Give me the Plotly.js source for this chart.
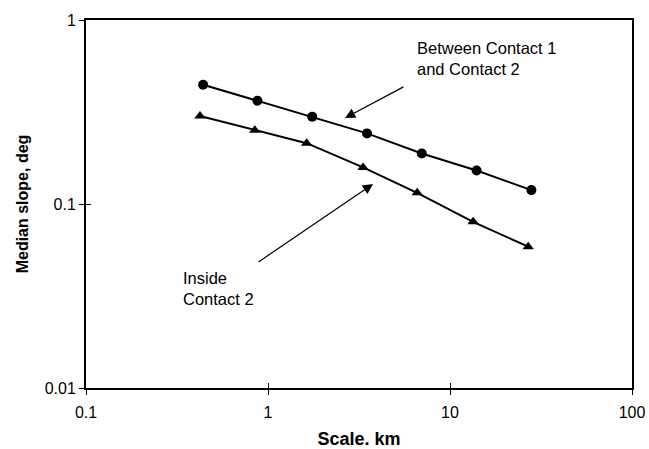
<!DOCTYPE html>
<html>
<head>
<meta charset="utf-8">
<script src="https://cdn.plot.ly/plotly-3.0.1.min.js"></script>
<style>html,body{margin:0;padding:0;background:#fff;}#chart{width:649px;height:449px;}</style>
</head>
<body>
<div id="chart"></div>
<script>
// Data
const scaleBetween = [0.44, 0.875, 1.75, 3.5, 7, 14, 28];
const slopeBetween = [0.445, 0.364, 0.298, 0.242, 0.188, 0.152, 0.119];
const scaleInside = [0.423, 0.846, 1.63, 3.33, 6.6, 13.4, 26.9];
const slopeInside = [0.301, 0.252, 0.214, 0.158, 0.115, 0.080, 0.0586];
const xTickVals = [0.1, 1, 10, 100];
const xTickText = ['0.1', '1', '10', '100'];
const yTickVals = [0.01, 0.1, 1];
const yTickText = ['0.01', '0.1', '1'];
const labelBetween = 'Between Contact 1<br>and Contact 2';
const labelInside = 'Inside<br>Contact 2';

const FONT = 'Liberation Sans, Arial, Helvetica, sans-serif';

const traces = [
  {x: scaleBetween, y: slopeBetween, type: 'scatter', mode: 'lines+markers',
   line: {color: '#000', width: 2}, marker: {symbol: 'circle', size: 10, color: '#000'},
   showlegend: false, hoverinfo: 'x+y'},
  {x: scaleInside, y: slopeInside, type: 'scatter', mode: 'lines+markers',
   line: {color: '#000', width: 2}, marker: {symbol: 'triangle-up', size: 10, color: '#000'},
   showlegend: false, hoverinfo: 'x+y'},
  // invisible trace so the overlay axes (inner half of the crossing ticks) are drawn
  {x: scaleBetween, y: slopeBetween, xaxis: 'x2', yaxis: 'y2', type: 'scatter', mode: 'markers',
   marker: {opacity: 0}, showlegend: false, hoverinfo: 'skip'}
];

const tickCommon = {ticklen: 5, tickwidth: 1, tickcolor: '#000', showgrid: false, zeroline: false};

const layout = {
  width: 649, height: 449,
  margin: {l: 86, r: 17, t: 20, b: 61},
  paper_bgcolor: '#fff', plot_bgcolor: '#fff',
  font: {family: FONT, color: '#000', size: 16},
  xaxis: Object.assign({
    type: 'log', range: [-1, 2],
    tickvals: xTickVals, ticktext: xTickText,
    ticks: 'outside', ticklabelstandoff: 4,
    showline: true, linecolor: '#000', linewidth: 2, mirror: true,
    tickfont: {size: 16},
    title: {text: '<b>Scale. km</b>', font: {size: 18}, standoff: 12}
  }, tickCommon),
  yaxis: Object.assign({
    type: 'log', range: [-2, 0],
    tickvals: yTickVals, ticktext: yTickText,
    ticks: 'outside',
    showline: true, linecolor: '#000', linewidth: 2, mirror: true,
    tickfont: {size: 16},
    title: {text: '<b>Median slope, deg</b>', font: {size: 16}, standoff: 12}
  }, tickCommon),
  xaxis2: Object.assign({
    type: 'log', range: [-1, 2], overlaying: 'x', anchor: 'y2',
    tickvals: xTickVals, ticks: 'inside', showticklabels: false, showline: false
  }, tickCommon),
  yaxis2: Object.assign({
    type: 'log', range: [-2, 0], overlaying: 'y', anchor: 'x2',
    tickvals: yTickVals, ticks: 'inside', showticklabels: false, showline: false
  }, tickCommon),
  annotations: [
    {x: 0.423, y: -0.533, xref: 'x', yref: 'y', ax: 60, ay: -32,
     showarrow: true, arrowhead: 2, arrowsize: 1.7, arrowwidth: 1.2, arrowcolor: '#000', text: ''},
    {x: 0.577, y: -0.891, xref: 'x', yref: 'y', ax: -116, ay: 79,
     showarrow: true, arrowhead: 2, arrowsize: 1.7, arrowwidth: 1.2, arrowcolor: '#000', text: ''},
    {x: 0.603, y: 0.955, xref: 'paper', yref: 'paper', xanchor: 'left', yanchor: 'top',
     align: 'left', showarrow: false, text: labelBetween, font: {size: 16.5}},
    {x: 0.174, y: 0.328, xref: 'paper', yref: 'paper', xanchor: 'left', yanchor: 'top',
     align: 'left', showarrow: false, text: labelInside, font: {size: 16.5}}
  ]
};

Plotly.newPlot('chart', traces, layout, {displayModeBar: false, staticPlot: true});
</script>
</body>
</html>
